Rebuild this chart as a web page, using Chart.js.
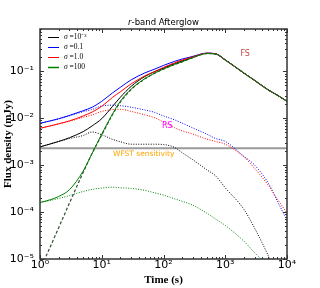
<!DOCTYPE html>
<html><head><meta charset="utf-8">
<script src="https://cdn.jsdelivr.net/npm/chart.js@4.4.0/dist/chart.umd.min.js"></script>
<style>html,body{margin:0;padding:0;background:#fff}</style>
</head><body>
<canvas id="c" width="320" height="288"></canvas>
<script>
// ---- data ----
const times = [1,1.5,2,3,5,7,10,15,20,30,50,70,100,150,200,300,500,700,1000,2000,3000,5000,7000,10000];
const fsFlux = [5.8e-6,1.95e-5,4.6e-5,1.56e-4,7.0e-4,1.8e-3,4.4e-3,0.0120,0.0222,0.0412,0.0695,0.0895,0.1115,0.1395,0.1595,0.197,0.24,0.235,0.175,0.092,0.064,0.040,0.031,0.023];
const totalS1e3 = [2.45e-3,2.86e-3,3.2e-3,3.85e-3,5.2e-3,6.9e-3,9.8e-3,0.018,0.028,0.048,0.078,0.097,0.117,0.146,0.166,0.200,0.242,0.235,0.175,0.092,0.064,0.040,0.031,0.023];
const totalS01 = [7.83e-3,8.85e-3,9.76e-3,0.0115,0.0145,0.0172,0.0230,0.0349,0.0457,0.0660,0.0929,0.110,0.134,0.163,0.183,0.209,0.245,0.236,0.176,0.092,0.064,0.040,0.031,0.023];
const totalS1 = [6.12e-3,6.92e-3,7.63e-3,8.8e-3,0.0112,0.0136,0.0180,0.0280,0.0367,0.0542,0.0802,0.0976,0.1216,0.1517,0.174,0.204,0.244,0.236,0.175,0.092,0.064,0.040,0.031,0.023];
const totalS100 = [1.6e-4,1.85e-4,2.15e-4,3.0e-4,7.5e-4,1.8e-3,4.6e-3,0.0125,0.023,0.042,0.070,0.090,0.112,0.14,0.16,0.197,0.24,0.235,0.175,0.092,0.064,0.040,0.031,0.023];
const rsS1e3 = [2.45e-3,2.86e-3,3.2e-3,3.7e-3,4.3e-3,5.1e-3,4.45e-3,3.55e-3,3.15e-3,2.8e-3,2.8e-3,2.8e-3,2.75e-3,2.4e-3,1.85e-3,1.3e-3,8.0e-4,5.9e-4,3.3e-4,1.15e-4,4.5e-5,1.15e-5,4e-6,1e-6];
const rsS01 = [7.83e-3,8.83e-3,9.7e-3,0.0113,0.0138,0.0154,0.0183,0.0190,0.0186,0.0172,0.0150,0.0135,0.0112,0.0093,0.0079,0.0062,0.0046,0.0037,0.0032,0.00155,0.0010,4.1e-4,1.7e-4,6.7e-5];
const rsS1 = [6.1e-3,6.9e-3,7.6e-3,8.6e-3,0.0105,0.0118,0.0140,0.0153,0.0155,0.0140,0.0118,0.0104,0.0083,0.0063,0.0054,0.0046,0.0036,0.0032,0.0028,0.0015,8.5e-4,3.7e-4,1.9e-4,9.5e-5];
const rsS100 = [1.6e-4,1.78e-4,1.95e-4,2.25e-4,2.75e-4,3.05e-4,3.25e-4,3.4e-4,3.3e-4,3.2e-4,2.9e-4,2.6e-4,2.3e-4,1.93e-4,1.7e-4,1.4e-4,9.5e-5,7.1e-5,5.2e-5,2.4e-5,1.35e-5,7e-6,4e-6,2e-6];
const wfstTimes = [1,10000];
const wfstFlux = [2.3e-3,2.3e-3];
const sigmaLabels = ['10⁻³','0.1','1.0','100'];
const xTickVals = [1,10,100,1000,10000];
const xTickLabels = ['10⁰','10¹','10²','10³','10⁴'];
const yTickVals = [1e-5,1e-4,1e-3,1e-2,1e-1];
const yTickLabels = ['10⁻⁵','10⁻⁴','10⁻³','10⁻²','10⁻¹'];

// ---- styling ----
const colors = ['#000000','#0000ff','#ff0000','#008000'];
const pts = arr => times.map((t,i)=>({x:t,y:arr[i]}));
const totals = [totalS1e3,totalS01,totalS1,totalS100];
const rss = [rsS1e3,rsS01,rsS1,rsS100];
const datasets = [];
datasets.push({data:wfstTimes.map((t,i)=>({x:t,y:wfstFlux[i]})),borderColor:'#9a9a9a',borderWidth:2,order:20,cubicInterpolationMode:'default',tension:0});
rss.forEach((a,i)=>datasets.push({data:pts(a),borderColor:colors[i],borderWidth:1,borderDash:[1,1.5],order:15-i}));
datasets.push({data:pts(fsFlux),borderColor:'#2f4f2f',borderWidth:1.2,borderDash:[3,2],order:10});
totals.forEach((a,i)=>datasets.push({data:pts(a),borderColor:colors[i],borderWidth:1,order:5-i}));

const annotations = [
  {text:'FS', t:2100, f:0.24, color:'#c04848', font:'8px "DejaVu Sans"', align:'center'},
  {text:'RS', t:115, f:6.8e-3, color:'#ff00ff', font:'8px "DejaVu Sans"', align:'center'},
  {text:'WFST sensitivity', t:15.2, f:1.7e-3, color:'#ffa500', font:'7.5px "DejaVu Sans"', align:'left'}
];

const deco = {
  id:'deco',
  afterDraw(chart){
    const ctx = chart.ctx, ca = chart.chartArea, xs = chart.scales.x, ys = chart.scales.y;
    ctx.save();
    ctx.strokeStyle = '#333'; ctx.lineWidth = 1;
    for(let d=0; d<=4; d++){
      for(let m=1; m<=9; m++){
        const v = m*Math.pow(10,d); if(v>10000) break;
        const px = Math.round(xs.getPixelForValue(v))+0.5, L = m===1?4:2;
        ctx.beginPath(); ctx.moveTo(px,ca.bottom); ctx.lineTo(px,ca.bottom-L);
        ctx.moveTo(px,ca.top); ctx.lineTo(px,ca.top+L); ctx.stroke();
      }
    }
    for(let d=-5; d<=0; d++){
      for(let m=1; m<=9; m++){
        const v = m*Math.pow(10,d); if(v>ys.max) break;
        const py = Math.round(ys.getPixelForValue(v))+0.5, L = m===1?4:2;
        ctx.beginPath(); ctx.moveTo(ca.left,py); ctx.lineTo(ca.left+L,py);
        ctx.moveTo(ca.right,py); ctx.lineTo(ca.right-L,py); ctx.stroke();
      }
    }
    ctx.strokeStyle = '#333'; ctx.lineWidth = 1.5;
    ctx.strokeRect(ca.left, ca.top, ca.right-ca.left, ca.bottom-ca.top);
    ctx.fillStyle = '#000'; ctx.textBaseline = 'middle';
    ctx.font = 'italic 8.5px "DejaVu Sans"';
    const w1 = ctx.measureText('r').width;
    ctx.font = '8.5px "DejaVu Sans"';
    const w2 = ctx.measureText('-band Afterglow').width;
    const cx = (ca.left+ca.right)/2, x0 = cx-(w1+w2)/2;
    ctx.textAlign = 'left';
    ctx.font = 'italic 8.5px "DejaVu Sans"'; ctx.fillText('r', x0, 23);
    ctx.font = '8.5px "DejaVu Sans"'; ctx.fillText('-band Afterglow', x0+w1, 23);
    ctx.font = 'bold 11px "Liberation Serif"'; ctx.textAlign = 'center';
    ctx.fillText('Time (s)', cx, 280);
    ctx.save(); ctx.translate(8, (ca.top+ca.bottom)/2); ctx.rotate(-Math.PI/2);
    ctx.fillText('Flux density (mJy)', 0, 0); ctx.restore();
    sigmaLabels.forEach((lab,i)=>{
      const y = 37 + 10*i;
      ctx.strokeStyle = colors[i]; ctx.lineWidth = i===3?1.5:1; ctx.setLineDash([]);
      ctx.beginPath(); ctx.moveTo(48,y+0.5); ctx.lineTo(59,y+0.5); ctx.stroke();
      ctx.fillStyle = '#000'; ctx.textAlign = 'left';
      ctx.font = 'italic 7.5px "Liberation Serif"'; ctx.fillText('σ', 64, y);
      const ws = ctx.measureText('σ').width;
      ctx.font = '7.5px "Liberation Serif"'; ctx.fillText(' =' + lab, 64+ws, y);
    });
    annotations.forEach(a=>{
      ctx.fillStyle = a.color; ctx.font = a.font; ctx.textAlign = a.align;
      ctx.fillText(a.text, xs.getPixelForValue(a.t), ys.getPixelForValue(a.f));
    });
    ctx.restore();
  }
};

const near = (a,b)=>Math.abs(Math.log10(a/b))<1e-6;
new Chart(document.getElementById('c'), {
  type:'line',
  data:{datasets},
  options:{
    responsive:false, animation:false, devicePixelRatio:1,
    layout:{padding:{top:29,right:33,left:0,bottom:0}},
    plugins:{legend:{display:false},tooltip:{enabled:false},title:{display:false}},
    elements:{point:{radius:0},line:{borderWidth:1,cubicInterpolationMode:'monotone',fill:false}},
    scales:{
      x:{type:'logarithmic',min:1,max:10000,
        grid:{display:false,drawTicks:false},border:{display:false},
        afterBuildTicks:s=>{s.ticks = xTickVals.map(v=>({value:v}));},
        ticks:{autoSkip:false,maxRotation:0,minRotation:0,padding:0,color:'#000',
          font:{family:'DejaVu Sans',size:11},
          callback:(v)=>{const i=xTickVals.findIndex(t=>near(t,v)); return i<0?'':xTickLabels[i];}},
        afterFit:s=>{s.height=29;}},
      y:{type:'logarithmic',min:1e-5,max:0.8,
        grid:{display:false,drawTicks:false},border:{display:false},
        afterBuildTicks:s=>{s.ticks = yTickVals.map(v=>({value:v}));},
        ticks:{autoSkip:false,padding:6,color:'#000',
          font:{family:'DejaVu Sans',size:11},
          callback:(v)=>{const i=yTickVals.findIndex(t=>near(t,v)); return i<0?'':yTickLabels[i];}},
        afterFit:s=>{s.width=40;}}
    }
  },
  plugins:[deco]
});
</script>
</body></html>
